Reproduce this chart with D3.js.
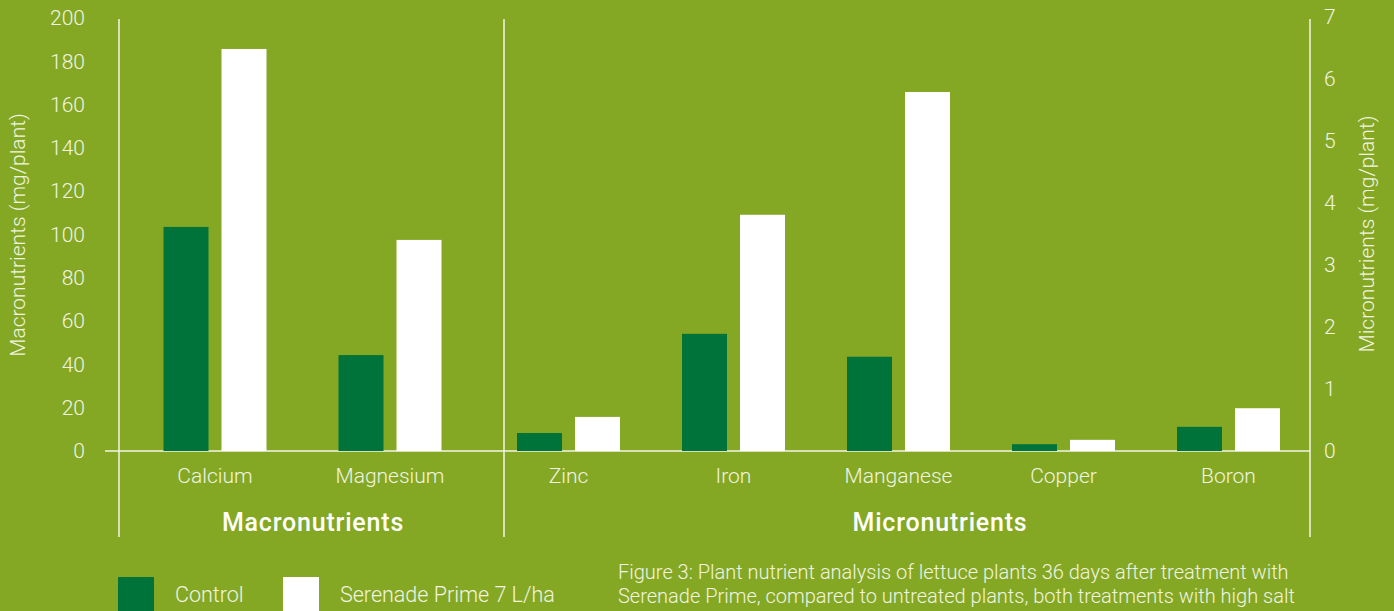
<!DOCTYPE html>
<html>
<head>
<meta charset="utf-8">
<script src="https://cdn.jsdelivr.net/npm/d3@7"></script>
<style>
  html, body { margin: 0; padding: 0; background: #85a824; }
  svg { display: block; }
  text { font-family: Roboto, "Liberation Sans", sans-serif; font-weight: 300; fill: #f1f4e2; }
</style>
</head>
<body>
<div id="chart"></div>
<script>
// data
let macroCats = ["Calcium", "Magnesium"];
let microCats = ["Zinc", "Iron", "Manganese", "Copper", "Boron"];
let seriesNames = ["Control", "Serenade Prime 7 L/ha"];
let macroControl = [103.5, 44.3];
let macroSerenade = [185.7, 97.5];
let microControl = [0.29, 1.89, 1.52, 0.11, 0.39];
let microSerenade = [0.55, 3.81, 5.79, 0.18, 0.69];
let macroTicks = [0, 20, 40, 60, 80, 100, 120, 140, 160, 180, 200];
let microTicks = [0, 1, 2, 3, 4, 5, 6, 7];
let groupLabels = ["Macronutrients", "Micronutrients"];
let captionLines = [
  "Figure 3: Plant nutrient analysis of lettuce plants 36 days after treatment with",
  "Serenade Prime, compared to untreated plants, both treatments with high salt"
];

function loadChart() {
  let svgWidth = 1394;
  let svgHeight = 611;
  let dark = "#00733a";
  let light = "#ffffff";
  let lineCol = "#f3f5e6";

  let svg = d3.select("#chart")
    .append("svg")
    .attr("width", svgWidth)
    .attr("height", svgHeight);

  // scales
  let yMacro = d3.scaleLinear().domain([0, 200]).range([451, 18]);
  let yMicro = d3.scaleLinear().domain([0, 7]).range([451, 17]);
  let xMacro = d3.scaleBand().domain(macroCats).range([127.5, 477.5]);
  let xMicro = d3.scaleBand().domain(microCats).range([486, 1311]);
  let xInner = d3.scaleBand().domain(seriesNames).range([-51.5, 51.5]).paddingInner(13 / 58);
  let colour = d3.scaleOrdinal().domain(seriesNames).range([dark, light]);

  // frame lines
  let lines = [
    [105, 451, 1310, 451],
    [119, 19, 119, 537],
    [504, 19, 504, 537],
    [1310, 19, 1310, 537]
  ];
  svg.append("g").selectAll("line")
    .data(lines)
    .enter()
    .append("line")
    .attr("x1", d => d[0]).attr("y1", d => d[1])
    .attr("x2", d => d[2]).attr("y2", d => d[3])
    .attr("stroke", lineCol)
    .attr("stroke-width", 1.5);

  // left axis
  let leftAxis = d3.axisLeft(yMacro).tickValues(macroTicks).tickSize(0).tickPadding(0);
  let gl = svg.append("g")
    .attr("transform", "translate(85,0)")
    .call(leftAxis);
  gl.select(".domain").remove();
  gl.selectAll("text").attr("font-size", "21px").attr("font-family", null).attr("fill", null);

  // right axis
  let rightAxis = d3.axisRight(yMicro).tickValues(microTicks).tickFormat(d3.format("d")).tickSize(0).tickPadding(0);
  let gr = svg.append("g")
    .attr("transform", "translate(1324,0)")
    .call(rightAxis);
  gr.select(".domain").remove();
  gr.selectAll("text").attr("font-size", "21px").attr("font-family", null).attr("fill", null);

  // bars
  function drawGroup(cats, xScale, yScale, control, serenade) {
    let rows = [];
    cats.forEach(function(c, i) {
      rows.push({ cat: c, series: seriesNames[0], value: control[i] });
      rows.push({ cat: c, series: seriesNames[1], value: serenade[i] });
    });
    svg.append("g").selectAll("rect")
      .data(rows)
      .enter()
      .append("rect")
      .attr("x", d => xScale(d.cat) + xScale.bandwidth() / 2 + xInner(d.series))
      .attr("y", d => yScale(d.value))
      .attr("width", xInner.bandwidth())
      .attr("height", d => yScale(0) - yScale(d.value))
      .attr("fill", d => colour(d.series));

    svg.append("g").selectAll("text")
      .data(cats)
      .enter()
      .append("text")
      .attr("x", d => xScale(d) + xScale.bandwidth() / 2)
      .attr("y", 483)
      .attr("text-anchor", "middle")
      .attr("font-size", "21px")
      .text(d => d);
  }
  drawGroup(macroCats, xMacro, yMacro, macroControl, macroSerenade);
  drawGroup(microCats, xMicro, yMicro, microControl, microSerenade);

  // group labels
  let groupX = [313, 940];
  svg.append("g").selectAll("text")
    .data(groupLabels)
    .enter()
    .append("text")
    .attr("x", (d, i) => groupX[i]).attr("y", 531)
    .attr("text-anchor", "middle")
    .attr("font-size", "25px")
    .attr("letter-spacing", "0.8px")
    .style("font-weight", "500")
    .style("fill", "#ffffff")
    .text(d => d);

  // axis titles
  svg.append("text")
    .attr("transform", "translate(25,235) rotate(-90)")
    .attr("text-anchor", "middle")
    .attr("font-size", "21px")
    .text("Macronutrients (mg/plant)");
  svg.append("text")
    .attr("transform", "translate(1374,234) rotate(-90)")
    .attr("text-anchor", "middle")
    .attr("font-size", "21px")
    .text("Micronutrients (mg/plant)");

  // legend
  let legendX = [118, 283];
  let legend = svg.append("g").selectAll("g")
    .data(seriesNames)
    .enter()
    .append("g")
    .attr("transform", (d, i) => `translate(${legendX[i]}, 577)`);
  legend.append("rect")
    .attr("width", 36).attr("height", 36)
    .attr("fill", d => colour(d));
  legend.append("text")
    .attr("x", 57).attr("y", 25)
    .attr("font-size", "21.5px")
    .text(d => d);

  // caption
  svg.append("g").selectAll("text")
    .data(captionLines)
    .enter()
    .append("text")
    .attr("x", 618)
    .attr("y", (d, i) => 579 + i * 24)
    .attr("font-size", "20px")
    .text(d => d);
}

loadChart();
</script>
</body>
</html>
